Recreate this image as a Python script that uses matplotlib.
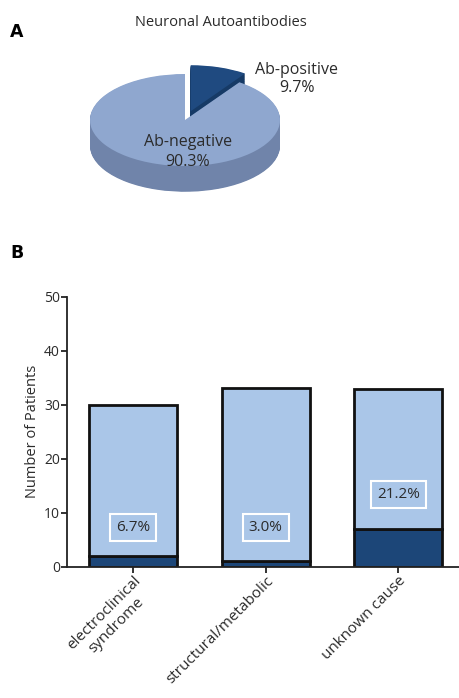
import matplotlib.pyplot as plt
import numpy as np

plt.rcParams['font.family'] = ['Open Sans', 'DejaVu Sans']

# Panel A data
pie_labels = ["Ab-positive", "Ab-negative"]
pie_pct = [9.7, 90.3]

# Panel B data
categories = ["electroclinical\nsyndrome", "structural/metabolic", "unknown cause"]
ab_positive = [2, 1, 7]
totals = [30, 33, 33]

light = "#aac6e8"
dark = "#1c4678"
top_light = "#8fa7cf"
top_dark = "#1f4a80"
side_light = "#7084aa"
side_dark = "#163a66"
txt = "#2b2b2b"

W, H = 460, 698
fig = plt.figure(figsize=(W / 100, H / 100), dpi=100)

# ---------------- Panel A: 3D-looking pie ----------------
# pixel scale: x unit = 95 px, y unit = 46 px, centre at (185, 120)
cx, cy, ax_px, ay_px = 185, 120, 95, 46
top_px, bot_px = 40, 225
axA = fig.add_axes([0, 1 - bot_px / H, 1, (bot_px - top_px) / H])
explode = [0.2, 0]
thick = 0.56
nlay = 40
for k in range(nlay, 0, -1):
    axA.pie(pie_pct, explode=explode, startangle=90, counterclock=False,
            colors=[side_dark, side_light], center=(0, -thick * k / nlay),
            wedgeprops=dict(linewidth=0))
axA.pie(pie_pct, explode=explode, startangle=90, counterclock=False,
        colors=[top_dark, top_light], center=(0, 0),
        wedgeprops=dict(linewidth=0))
axA.set_aspect('auto')
axA.set_xlim(-cx / ax_px, (W - cx) / ax_px)
axA.set_ylim((cy - bot_px) / ay_px, (cy - top_px) / ay_px)
axA.axis('off')
axA.text((297 - cx) / ax_px, (cy - 79) / ay_px,
         f"{pie_labels[0]}\n{pie_pct[0]}%", ha='center', va='center',
         fontsize=11.5, color=txt, linespacing=1.25)
axA.text((188 - cx) / ax_px, (cy - 152) / ay_px,
         f"{pie_labels[1]}\n{pie_pct[1]}%", ha='center', va='center',
         fontsize=11.5, color=txt, linespacing=1.25)
fig.text(221 / W, 1 - 22 / H, "Neuronal Autoantibodies", ha='center',
         va='center', fontsize=10.5, color=txt)
fig.text(10 / W, 1 - 32 / H, "A", ha='left', va='center', fontsize=12.5,
         fontweight='bold', family='DejaVu Sans')
fig.text(10 / W, 1 - 253 / H, "B", ha='left', va='center', fontsize=12.5,
         fontweight='bold', family='DejaVu Sans')

# ---------------- Panel B: stacked bars ----------------
left_px, y0_px, y50_px = 67, 566.7, 296.7
axB = fig.add_axes([left_px / W, 1 - y0_px / H, 1 - left_px / W,
                    (y0_px - y50_px) / H])
x = np.arange(len(categories))
neg = [t - p for t, p in zip(totals, ab_positive)]
axB.bar(x, ab_positive, width=0.665, color=dark, edgecolor='#111111',
        linewidth=2)
axB.bar(x, neg, bottom=ab_positive, width=0.665, color=light,
        edgecolor='#111111', linewidth=2)
label_y = [7.2, 7.2, 13.3]
for i in range(len(categories)):
    pct = ab_positive[i] / totals[i] * 100
    axB.text(x[i], label_y[i], f"{pct:.1f}%", ha='center', va='center',
             fontsize=11, color=txt,
             bbox=dict(boxstyle='square,pad=0.4', facecolor=light,
                       edgecolor='white', linewidth=1.5))
axB.set_xlim(-0.5, 2.466)
axB.set_ylim(0, 50)
axB.set_yticks([0, 10, 20, 30, 40, 50])
axB.set_xticks(x)
axB.set_xticklabels(categories, rotation=45, ha='right', va='top',
                    rotation_mode='anchor', multialignment='center',
                    fontsize=11)
axB.set_ylabel("Number of Patients", fontsize=10.5, color=txt, labelpad=3)
axB.spines['top'].set_visible(False)
axB.spines['right'].set_visible(False)
for s in ['left', 'bottom']:
    axB.spines[s].set_linewidth(1.3)
    axB.spines[s].set_color('#222222')
axB.tick_params(direction='out', length=4, width=1.3, colors='#222222',
                labelsize=10, labelcolor=txt, pad=1)
axB.tick_params(axis='x', labelsize=11)

fig.savefig("out.png", dpi=100)
